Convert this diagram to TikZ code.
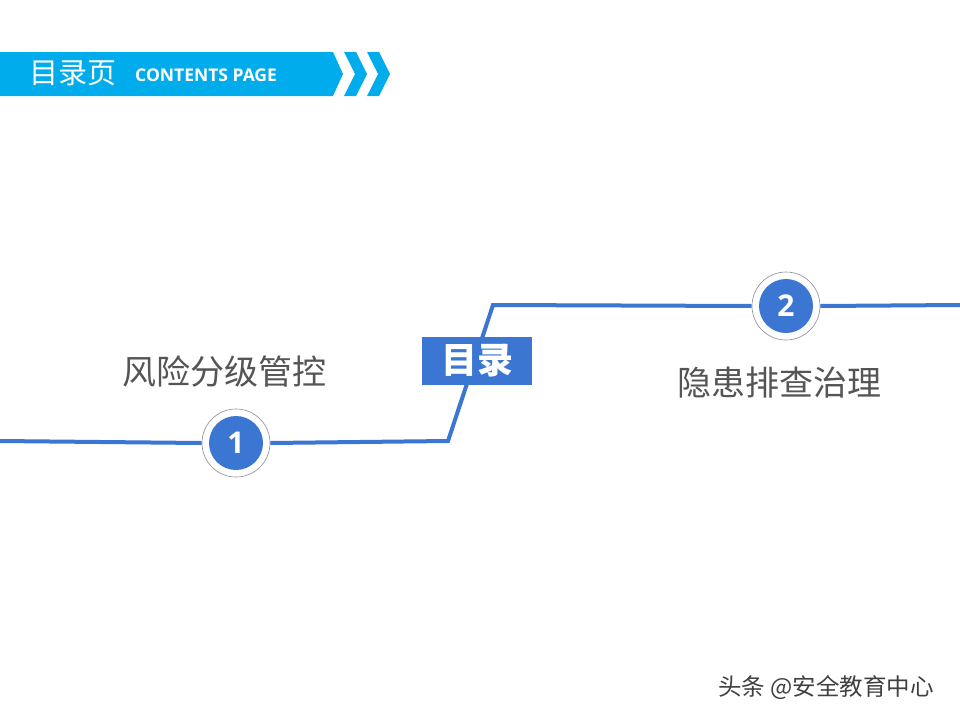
\documentclass[tikz,border=0pt]{standalone}
\usepackage{fontspec}
\newfontfamily\cjk{Noto Sans CJK SC}
\newfontfamily\osans{Open Sans}
\definecolor{cyanbar}{RGB}{0,172,236}
\definecolor{lineblue}{RGB}{58,118,210}
\definecolor{txtgray}{RGB}{85,85,85}
\tikzset{
  conn/.style={draw=lineblue,line width=4pt},
  ring/.style={circle,draw=black!45,line width=0.6pt,fill=white,minimum size=68pt,inner sep=0pt},
  numdot/.style={circle,fill=lineblue,minimum size=54pt,inner sep=0pt,text=white,font=\osans\bfseries\fontsize{30}{30}\selectfont},
  title/.style={text=txtgray,font=\cjk\fontsize{34}{34}\selectfont,inner sep=0pt},
  chev/.style={fill=cyanbar}
}
\begin{document}
\begin{tikzpicture}[x=1pt,y=-1pt]
\useasboundingbox (0,0) rectangle (960,720);
\fill[white] (0,0) rectangle (960,720);
% header bar
\fill[cyanbar] (0,52) -- (333,52) -- (343,74) -- (333,96) -- (0,96) -- cycle;
\fill[chev] (344,52) -- (356,52) -- (367,74) -- (356,96) -- (344,96) -- (355,74) -- cycle;
\fill[chev] (367,52) -- (379,52) -- (390,74) -- (379,96) -- (367,96) -- (378,74) -- cycle;
\node[anchor=west,text=white,font=\cjk\fontsize{29}{29}\selectfont,inner sep=0pt] (hdr) at (29,73) {目录页};
\node[anchor=west,text=white,font=\osans\bfseries\fontsize{17.5}{17.5}\selectfont,inner sep=0pt] (hdren) at (135,75) {CONTENTS PAGE};
% connector line
\coordinate (L0) at (0,441);
\coordinate (Lk) at (448,441);
\coordinate (Uk) at (493,305);
\coordinate (U1) at (960,305);
\node[ring] (r1) at (236,443) {};
\node[ring] (r2) at (786,306) {};
\draw[conn] (L0) -- (r1.west);
\draw[conn,line join=miter] (r1.east) -- (Lk) -- (Uk) -- (r2.west);
\draw[conn] (r2.east) -- (U1);
\node[numdot] (n1) at (r1.center) {1};
\node[numdot] (n2) at (r2.center) {2};
% center box
\node[fill=lineblue,minimum width=110pt,minimum height=48pt,inner sep=0pt,text=white,font=\cjk\bfseries\fontsize{36}{36}\selectfont] (mulu) at (477,361) {目录};
% titles
\node[title] (t1) at (224,372) {风险分级管控};
\node[title] (t2) at (779,383) {隐患排查治理};
% watermark
\node[text=white,font=\cjk\fontsize{23.5}{23.5}\selectfont,inner sep=0pt] (wms) at (827,689) {头条 @安全教育中心};
\node[text=black!75,font=\cjk\fontsize{23.5}{23.5}\selectfont,inner sep=0pt] (wm) at (826,688) {头条 @安全教育中心};
\end{tikzpicture}
\end{document}
